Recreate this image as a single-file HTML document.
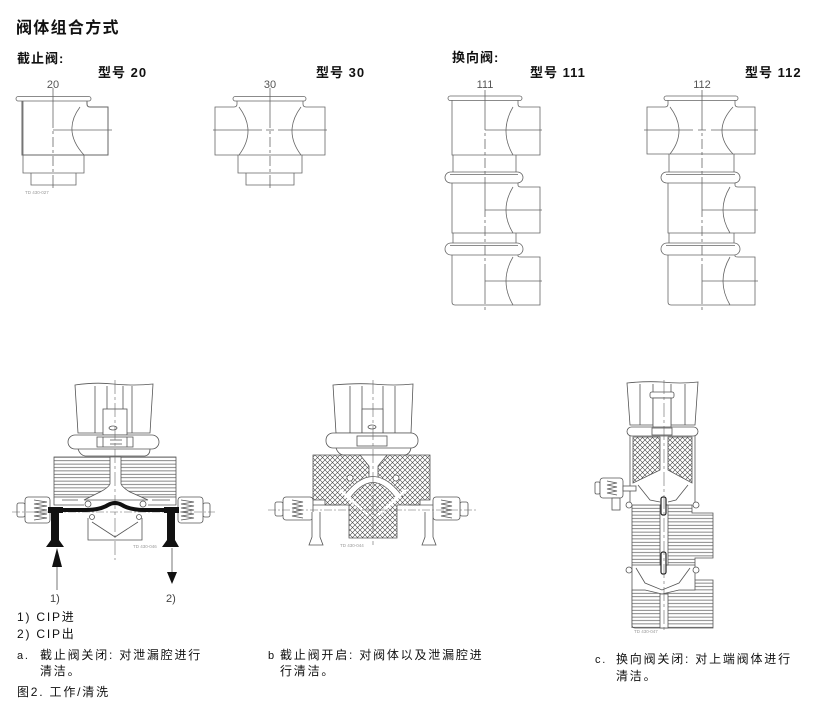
<!DOCTYPE html>
<html><head><meta charset="utf-8"><style>
html,body{margin:0;padding:0;background:#fff;}
svg{display:block;}
text{font-family:"Liberation Sans","Noto Sans CJK SC",sans-serif;}
.h{font-weight:bold;fill:#111;}
.t{fill:#111;font-size:12px;letter-spacing:1.8px;}
.lab{fill:#555;font-size:11px;}
.td{fill:#999;font-size:4.5px;}
</style></head><body>
<svg width="827" height="707" viewBox="0 0 827 707" xmlns="http://www.w3.org/2000/svg">
<defs>
<pattern id="hl" width="8" height="3.4" patternUnits="userSpaceOnUse"><rect width="8" height="3.4" fill="#fff"/><line x1="0" y1="1.7" x2="8" y2="1.7" stroke="#555" stroke-width="0.7"/></pattern>
<pattern id="xh" width="5" height="5" patternUnits="userSpaceOnUse"><rect width="5" height="5" fill="#fff"/><path d="M0 0L5 5M5 0L0 5" stroke="#444" stroke-width="0.6"/></pattern>
</defs>

<!-- Headings -->
<text x="16" y="33" class="h" style="font-size:16px;letter-spacing:1.3px">阀体组合方式</text>
<text x="17" y="63" class="h" style="font-size:13px;letter-spacing:1px">截止阀:</text>
<text x="98" y="77" class="h" style="font-size:13px;letter-spacing:1px">型号 20</text>
<text x="316" y="77" class="h" style="font-size:13px;letter-spacing:1px">型号 30</text>
<text x="452" y="62" class="h" style="font-size:13px;letter-spacing:1px">换向阀:</text>
<text x="530" y="77" class="h" style="font-size:13px;letter-spacing:1px">型号 111</text>
<text x="745" y="77" class="h" style="font-size:13px;letter-spacing:1px">型号 112</text>

<text x="53" y="88" class="lab" text-anchor="middle">20</text>
<text x="270" y="88" class="lab" text-anchor="middle">30</text>
<text x="485" y="88" class="lab" text-anchor="middle">111</text>
<text x="702" y="88" class="lab" text-anchor="middle">112</text>

<g stroke="#666" fill="none" stroke-width="0.8">
<!-- Drawing 20 -->
<rect x="16" y="96.5" width="75" height="4.5" rx="2.2"/>
<path d="M22 101 V155 H108 V107 H90 Q87 107 87 104 V101" stroke-width="1"/>
<line x1="23" y1="101" x2="23" y2="155"/>
<path d="M23 155 V173 H84 V155 M31 173 V185 H76 V173"/>
<path d="M53 88 V188" stroke-dasharray="40 3 3 3 10 3 3 3 10 3 3 3"/>
<path d="M53 130 H112"/>
<path d="M80 107 Q62 131 84 155"/>

<!-- Drawing 30 -->
<rect x="233" y="96.5" width="73" height="4.5" rx="2.2"/>
<path d="M237 101 V104 Q237 107 234 107 H215 V155 H325 V107 H306 Q303 107 303 104 V101"/>
<path d="M238 155 V173 H302 V155 M246 173 V185 H294 V173"/>
<path d="M270 88 V188" stroke-dasharray="40 3 3 3 10 3 3 3 10 3 3 3"/>
<path d="M213 130 H262 M266 130 H274 M278 130 H327"/>
<path d="M239 107 Q257 131 239 155 M301 107 Q283 131 301 155"/>

<!-- Drawing 111 -->
<rect x="448" y="96" width="74" height="4.5" rx="2.2"/>
<path d="M452 100 V155 H540 V107 H521 Q518 107 518 104 V100"/>
<path d="M513 107 Q499 131 513 155 M485 130 H542"/>
<path d="M453 155 V172 M516 155 V172"/>
<rect x="445" y="172" width="78" height="11" rx="5.5"/>
<path d="M450 174.5 H518"/>
<path d="M452 183 V233 H540 V187 H521 Q518 187 518 185 V183"/>
<path d="M513 187 Q499 210 513 233 M485 210 H542"/>
<path d="M453 233 V243 M516 233 V243"/>
<rect x="445" y="243" width="78" height="12" rx="6"/>
<path d="M450 245.5 H518"/>
<path d="M452 255 V302 Q452 305 455 305 H540 V257 H521 Q518 257 518 256 V255"/>
<path d="M513 257 Q499 281 513 305 M485 281 H542"/>
<path d="M485 90 V310" stroke-dasharray="40 3 3 3 10 3 3 3 10 3 3 3"/>

<!-- Drawing 112 -->
<rect x="664" y="96" width="74" height="4.5" rx="2.2"/>
<path d="M668 100 V104 Q668 107 665 107 H647 V154 H755 V107 H738 Q735 107 735 104 V100"/>
<path d="M670 107 Q688 131 670 154 M733 107 Q711 131 733 154"/>
<path d="M644 130 H693 M698 130 H706 M711 130 H758"/>
<path d="M669 154 V172 M734 154 V172"/>
<rect x="661" y="172" width="79" height="11" rx="5.5"/>
<path d="M666 174.5 H735"/>
<path d="M668 183 V233 H755 V187 H738 Q735 187 735 185 V183"/>
<path d="M730 187 Q716 210 730 233 M702 210 H758"/>
<path d="M669 233 V243 M734 233 V243"/>
<rect x="661" y="243" width="79" height="12" rx="6"/>
<path d="M666 245.5 H735"/>
<path d="M668 255 V302 Q668 305 671 305 H755 V257 H738 Q735 257 735 256 V255"/>
<path d="M730 257 Q716 281 730 305 M702 281 H758"/>
<path d="M702 90 V310" stroke-dasharray="40 3 3 3 10 3 3 3 10 3 3 3"/>
</g>
<text x="25" y="194" class="td">TD 430-027</text>

<!-- ===== Drawing A ===== -->
<g stroke="#555" stroke-width="0.8" fill="#fff">
<path d="M75 385 Q95 382 113 384 Q135 386 153 384 L150 433 H78 Z"/>
<path d="M95 386 V433 M107 386 V433 M123 386 V433 M132 386 V433" fill="none"/>
<rect x="103" y="409" width="24" height="26"/>
<ellipse cx="113" cy="428" rx="4" ry="2"/>
<rect x="68" y="435" width="91" height="14" rx="7"/>
<rect x="97" y="437" width="36" height="10"/>
<path d="M103 437 V447 M127 437 V447 M110 440 H122 M110 444 H122" fill="none"/>
<path d="M78 449 Q80 455 85 456 H145 Q150 455 150 449" fill="none"/>
<rect x="54" y="457" width="122" height="40" fill="url(#hl)"/>
<path d="M110 457 V484 Q108 488 100 492 L84 500 H148 L130 492 Q123 488 121 484 V457 Z"/>
<path d="M54 497 V505 H84 M176 497 V505 H148" fill="none"/>
<path d="M62 500 H78 M152 500 H170" fill="none"/>
<circle cx="88" cy="504" r="3"/><circle cx="143" cy="504" r="3"/>
<circle cx="92" cy="517" r="2.5"/><circle cx="139" cy="517" r="2.5"/>
<path d="M88 518 V540 H142 V518 M92 522 L115 537 L138 522" fill="none"/>
<!-- fittings -->
<rect x="17" y="503" width="8" height="14" rx="2"/>
<rect x="25" y="497" width="25" height="26" rx="3"/>
<path d="M34 500 L47 502 L34 504 L47 506 L34 508 L47 510 L34 512 L47 514 L34 516 L47 518 L34 520" fill="none"/>
<rect x="203" y="503" width="7" height="14" rx="2"/>
<rect x="178" y="497" width="25" height="26" rx="3"/>
<path d="M181 500 L194 502 L181 504 L194 506 L181 508 L194 510 L181 512 L194 514 L181 516 L194 518 L181 520" fill="none"/>
</g>
<path d="M12 512 H215" stroke="#666" stroke-width="0.6" stroke-dasharray="8 2 2 2" fill="none"/>
<path d="M115 380 V560" stroke="#666" stroke-width="0.6" stroke-dasharray="14 3 3 3" fill="none"/>
<path d="M50 510 H86 Q100 510 108 505 Q115 501 122 505 Q130 510 145 510 H177" stroke="#111" stroke-width="4" fill="none"/>
<path d="M48 507 H63 V513 H59 V540 L64 547 H46 L51 540 V513 H48 Z" fill="#111"/>
<path d="M164 507 H179 V513 H175 V540 L179 547 H162 L167 540 V513 H164 Z" fill="#111"/>
<line x1="57" y1="566" x2="57" y2="590" stroke="#555" stroke-width="0.8"/>
<polygon points="57,548 52,567 62,567" fill="#111"/>
<line x1="172" y1="548" x2="172" y2="573" stroke="#555" stroke-width="0.8"/>
<polygon points="167,572 177,572 172,584" fill="#111"/>
<text x="50" y="602" class="lab" style="font-size:11px;fill:#444">1)</text>
<text x="166" y="602" class="lab" style="font-size:11px;fill:#444">2)</text>
<text x="133" y="548" class="td">TD 430-046</text>

<!-- ===== Drawing B ===== -->
<g stroke="#555" stroke-width="0.8" fill="#fff">
<path d="M333 385 Q355 383 373 384 Q395 386 413 384 L411 433 H336 Z"/>
<path d="M350 386 V433 M362 386 V433 M383 386 V433 M395 386 V433" fill="none"/>
<rect x="362" y="409" width="21" height="24"/>
<ellipse cx="372" cy="427" rx="4" ry="2"/>
<rect x="326" y="433" width="92" height="15" rx="7"/>
<rect x="357" y="436" width="30" height="10"/>
<path d="M336 448 Q338 454 343 455 H405 Q410 454 411 448" fill="none"/>
<path d="M313 455 H430 V500 H420 V505 H397 V538 H349 V505 H325 V500 H313 Z" fill="url(#xh)"/>
<path d="M360 455 H387 L378 466 V478 H369 V466 Z"/>
<circle cx="350" cy="478" r="3"/><circle cx="396" cy="478" r="3"/>
<rect x="275" y="502" width="8" height="14" rx="2"/>
<rect x="283" y="497" width="30" height="23" rx="3"/>
<path d="M292 500 L303 502 L292 504 L303 506 L292 508 L303 510 L292 512 L303 514 L292 516 L303 518" fill="none"/>
<rect x="460" y="502" width="8" height="14" rx="2"/>
<rect x="433" y="497" width="27" height="23" rx="3"/>
<path d="M441 500 L452 502 L441 504 L452 506 L441 508 L452 510 L441 512 L452 514 L441 516 L452 518" fill="none"/>
<path d="M312 512 V537 L309 545 H323 L320 537 V512 M425 512 V537 L422 545 H436 L433 537 V512"/>
<path d="M313 505 H340 M433 505 H408" fill="none"/>
</g>
<path d="M347 497 Q373 462 399 497" stroke="#fff" stroke-width="7" fill="none"/>
<path d="M343 497 Q373 456 403 497 M351 497 Q373 468 395 497" stroke="#555" stroke-width="0.7" fill="none"/>
<path d="M340 490 L368 515 M406 490 L378 515" stroke="#fff" stroke-width="2.5" fill="none"/>
<path d="M268 510 H478" stroke="#666" stroke-width="0.6" stroke-dasharray="8 2 2 2" fill="none"/>
<path d="M373 380 V545" stroke="#666" stroke-width="0.6" stroke-dasharray="14 3 3 3" fill="none"/>
<text x="340" y="547" class="td">TD 430-044</text>

<!-- ===== Drawing C ===== -->
<g stroke="#555" stroke-width="0.8" fill="#fff">
<path d="M627 383 Q645 381 662 382 Q680 384 698 382 L695 425 H630 Z"/>
<path d="M640 384 V425 M653 384 V425 M671 384 V425 M685 384 V425" fill="none"/>
<rect x="650" y="392" width="24" height="6" rx="2"/>
<rect x="653" y="398" width="18" height="30"/>
<rect x="627" y="427" width="71" height="9" rx="4.5"/>
<rect x="652" y="428" width="20" height="7"/>
<path d="M630 436 V505 M695 436 V505" fill="none"/>
<path d="M633 437 H660 V470 L633 483 Z" fill="url(#xh)"/>
<path d="M668 437 H692 V483 L668 470 Z" fill="url(#xh)"/>
<path d="M638 485 L650 500 L660 502 M688 485 L676 500 L668 502" fill="none"/>
<path d="M632 505 H692 V513 H713 V558 H695 V565 H632 Z" fill="url(#hl)"/>
<rect x="660" y="505" width="8" height="60"/>
<path d="M636 568 L645 583 L662 590 L679 583 L690 568" fill="none"/>
<path d="M632 565 V628 M695 565 V580" fill="none"/>
<path d="M632 590 H645 L662 594 L679 590 H695 V580 H713 V628 H635 Q632 628 632 625 Z" fill="url(#hl)"/>
<rect x="660" y="594" width="8" height="34"/>
<circle cx="629" cy="505" r="3"/><circle cx="696" cy="505" r="3"/>
<circle cx="629" cy="570" r="3"/><circle cx="696" cy="570" r="3"/>
<rect x="595" y="482" width="5" height="12" rx="1.5"/>
<rect x="600" y="478" width="23" height="20" rx="3"/>
<path d="M607 481 L617 483 L607 485 L617 487 L607 489 L617 491 L607 493 L617 495" fill="none"/>
<rect x="623" y="486" width="13" height="5"/>
<rect x="612" y="498" width="8" height="12"/>
</g>
<rect x="661" y="497" width="5" height="18" rx="2" fill="#fff" stroke="#222" stroke-width="1.2"/>
<rect x="661" y="552" width="5" height="22" rx="2" fill="#fff" stroke="#222" stroke-width="1.2"/>
<path d="M664 380 V632" stroke="#666" stroke-width="0.6" stroke-dasharray="14 3 3 3" fill="none"/>
<text x="634" y="633" class="td">TD 430-047</text>

<!-- Bottom texts -->
<text x="17" y="621" class="t">1) CIP进</text>
<text x="17" y="638" class="t">2) CIP出</text>
<text x="17" y="659" class="t" style="font-size:11px">a.</text>
<text x="40" y="659" class="t">截止阀关闭: 对泄漏腔进行</text>
<text x="40" y="675" class="t">清洁。</text>
<text x="17" y="696" class="t">图2. 工作/清洗</text>
<text x="268" y="659" class="t" style="font-size:11px">b</text>
<text x="280" y="659" class="t">截止阀开启: 对阀体以及泄漏腔进</text>
<text x="280" y="675" class="t">行清洁。</text>
<text x="595" y="663" class="t" style="font-size:11px">c.</text>
<text x="616" y="663" class="t">换向阀关闭: 对上端阀体进行</text>
<text x="616" y="680" class="t">清洁。</text>
</svg>
</body></html>
